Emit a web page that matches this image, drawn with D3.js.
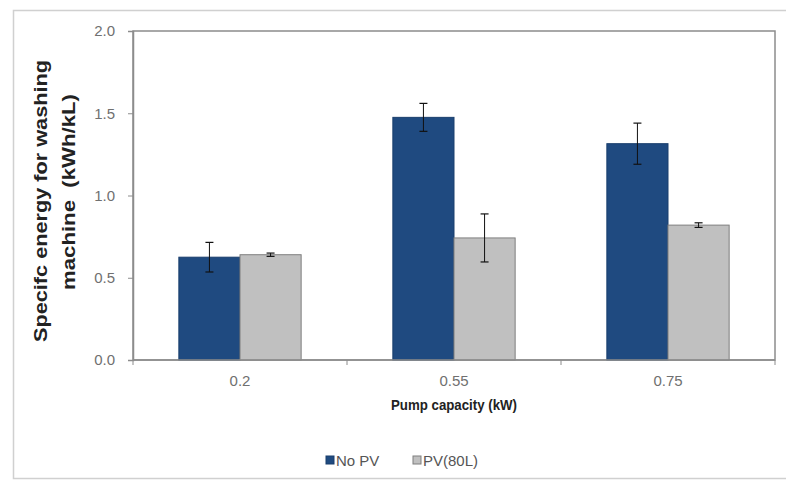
<!DOCTYPE html>
<html>
<head>
<meta charset="utf-8">
<script src="https://cdn.jsdelivr.net/npm/d3@7"></script>
<style>
  html, body { margin: 0; padding: 0; background: #fff; }
  svg text { font-family: "Liberation Sans", Arial, sans-serif; }
</style>
</head>
<body>
<svg id="chart" width="786" height="481"></svg>
<script>
// Pump capacities (kW) on the x axis
const categories = ["0.2", "0.55", "0.75"];
const seriesNames = ["No PV", "PV(80L)"];
// Specific energy (kWh/kL) and its spread for each series
const noPV = [0.625, 1.475, 1.315];
const noPVErr = [0.09, 0.085, 0.125];
const pv80 = [0.64, 0.742, 0.82];
const pv80Err = [0.01, 0.146, 0.014];
const yTicks = [0.0, 0.5, 1.0, 1.5, 2.0];

const colors = ["#1F4A80", "#C0C0C0"];
const strokes = ["#1A3E6C", "#7F7F7F"];

const svg = d3.select("#chart");
const m = { left: 133, top: 31, right: 775, bottom: 360 };

// outer chart frame
svg.append("rect")
  .attr("x", 13.5).attr("y", 10.5)
  .attr("width", 790).attr("height", 468)
  .attr("fill", "#fff").attr("stroke", "#D0D0D0").attr("stroke-width", 1.5);

const x = d3.scaleBand().domain(categories).range([m.left, m.right]);
const xs = d3.scaleBand().domain(seriesNames)
  .range([0, x.bandwidth()]).paddingInner(0).paddingOuter(0.75);
const y = d3.scaleLinear().domain([0, 2]).range([m.bottom, m.top]);

// plot area border
svg.append("rect")
  .attr("x", m.left).attr("y", m.top)
  .attr("width", m.right - m.left).attr("height", m.bottom - m.top)
  .attr("fill", "#fff").attr("stroke", "#8C8C8C").attr("stroke-width", 1.5);

const rows = categories.map((c, i) => ({
  cat: c,
  vals: [
    { s: seriesNames[0], v: noPV[i], e: noPVErr[i], k: 0 },
    { s: seriesNames[1], v: pv80[i], e: pv80Err[i], k: 1 }
  ]
}));

const g = svg.selectAll("g.grp").data(rows).join("g")
  .attr("class", "grp")
  .attr("transform", d => `translate(${x(d.cat)},0)`);

g.selectAll("rect").data(d => d.vals).join("rect")
  .attr("x", d => xs(d.s))
  .attr("y", d => y(d.v))
  .attr("width", xs.bandwidth())
  .attr("height", d => y(0) - y(d.v))
  .attr("fill", d => colors[d.k])
  .attr("stroke", d => strokes[d.k])
  .attr("stroke-width", 1);

// error bars
const eb = g.selectAll("g.err").data(d => d.vals).join("g").attr("class", "err")
  .attr("transform", d => `translate(${xs(d.s) + xs.bandwidth() / 2},0)`);
eb.append("line")
  .attr("y1", d => y(d.v - d.e)).attr("y2", d => y(d.v + d.e))
  .attr("stroke", "#111").attr("stroke-width", 1);
eb.selectAll("line.cap").data(d => [d.v - d.e, d.v + d.e]).join("line")
  .attr("class", "cap")
  .attr("x1", -4).attr("x2", 4)
  .attr("y1", v => y(v)).attr("y2", v => y(v))
  .attr("stroke", "#111").attr("stroke-width", 1.2);

// y axis
const yAxis = d3.axisLeft(y).tickValues(yTicks).tickFormat(d3.format(".1f"))
  .tickSize(5).tickPadding(13);
const ya = svg.append("g").attr("transform", `translate(${m.left},0)`).call(yAxis);
ya.select(".domain").attr("stroke", "#8C8C8C").attr("stroke-width", 1.5);
ya.selectAll(".tick line").attr("stroke", "#8C8C8C");
ya.selectAll(".tick text").attr("fill", "#707070").style("font-size", "15px");

// x axis: ticks sit on band boundaries, labels in band centres
const xa = svg.append("g").attr("transform", `translate(0,${m.bottom})`);
xa.append("line").attr("x1", m.left).attr("x2", m.right)
  .attr("stroke", "#8C8C8C").attr("stroke-width", 1.5);
const bounds = categories.map(c => x(c)).concat([m.right]);
xa.selectAll("line.tk").data(bounds).join("line").attr("class", "tk")
  .attr("x1", d => d).attr("x2", d => d).attr("y1", 0).attr("y2", 5)
  .attr("stroke", "#8C8C8C");
xa.selectAll("text").data(categories).join("text")
  .attr("x", d => x(d) + x.bandwidth() / 2).attr("y", 26)
  .attr("text-anchor", "middle").attr("fill", "#707070")
  .style("font-size", "15px").text(d => d);

// axis titles
svg.append("text")
  .attr("x", (m.left + m.right) / 2).attr("y", 410)
  .attr("text-anchor", "middle").attr("fill", "#222")
  .style("font-size", "14px").style("font-weight", "bold")
  .attr("textLength", 126).attr("lengthAdjust", "spacingAndGlyphs")
  .text("Pump capacity (kW)");

const yt = svg.append("text")
  .attr("transform", "rotate(-90)")
  .attr("text-anchor", "middle").attr("fill", "#222")
  .style("font-size", "19px").style("font-weight", "bold");
yt.append("tspan").attr("x", -201).attr("y", 47)
  .attr("textLength", 282).attr("lengthAdjust", "spacingAndGlyphs")
  .text("Specifc energy for washing");
yt.append("tspan").attr("x", -192).attr("y", 75)
  .attr("textLength", 196).attr("lengthAdjust", "spacingAndGlyphs")
  .text("machine\u00a0\u00a0(kWh/kL)");

// legend
const lg = svg.append("g").attr("transform", "translate(326,466)");
const items = lg.selectAll("g").data(seriesNames).join("g")
  .attr("transform", (d, i) => `translate(${i * 87},0)`);
items.append("rect")
  .attr("x", 0).attr("y", -10).attr("width", 8).attr("height", 8)
  .attr("fill", (d, i) => colors[i]).attr("stroke", (d, i) => strokes[i]);
items.append("text")
  .attr("x", 10).attr("y", 0)
  .attr("fill", "#555").style("font-size", "15px")
  .text(d => d);
</script>
</body>
</html>
